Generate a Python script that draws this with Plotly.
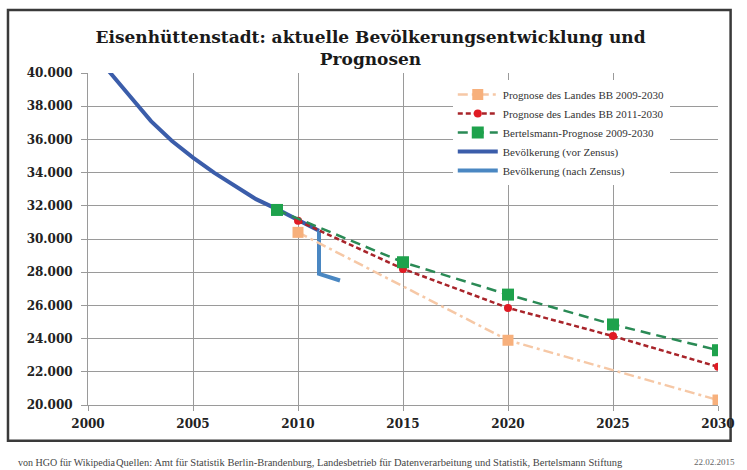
import plotly.graph_objects as go

# ---------------- data ----------------
years_vor = [2000, 2001, 2002, 2003, 2004, 2005, 2006, 2007, 2008, 2009, 2010, 2011]
pop_vor = [41800, 40100, 38600, 37100, 35900, 34900, 34000, 33200, 32400, 31800, 31150, 30500]

years_nach = [2011, 2011, 2012]
pop_nach = [30500, 27900, 27500]

years_bb0930 = [2010, 2020, 2030]
pop_bb0930 = [30400, 23900, 20300]

years_bb1130 = [2010, 2015, 2020, 2025, 2030]
pop_bb1130 = [31100, 28200, 25850, 24150, 22300]

years_bert = [2009, 2015, 2020, 2025, 2030]
pop_bert = [31750, 28600, 26650, 24850, 23300]

x_ticks = [2000, 2005, 2010, 2015, 2020, 2025, 2030]
y_ticks = [20000, 22000, 24000, 26000, 28000, 30000, 32000, 34000, 36000, 38000, 40000]

names = [
    "Prognose des Landes BB 2009-2030",
    "Prognose des Landes BB 2011-2030",
    "Bertelsmann-Prognose 2009-2030",
    "Bevölkerung (vor Zensus)",
    "Bevölkerung (nach Zensus)",
]

title_text = "Eisenhüttenstadt: aktuelle Bevölkerungsentwicklung und<br>Prognosen"
credit_text = "von HGO für Wikipedia"
source_text = ("Quellen: Amt für Statistik Berlin-Brandenburg, Landesbetrieb für "
               "Datenverarbeitung und Statistik, Bertelsmann Stiftung")
date_text = "22.02.2015"

# ---------------- figure ----------------
fig = go.Figure()

fig.add_trace(go.Scatter(
    x=years_vor, y=pop_vor, mode="lines", name=names[3], legendrank=4,
    line=dict(color="#3b5daa", width=4)))
fig.add_trace(go.Scatter(
    x=years_nach, y=pop_nach, mode="lines", name=names[4], legendrank=5,
    line=dict(color="#4a87c2", width=4)))
fig.add_trace(go.Scatter(
    x=years_bb0930, y=pop_bb0930, mode="lines+markers", name=names[0], legendrank=1,
    line=dict(color="#f6c8a6", width=2.5, dash="10px,4px,3px,4px"),
    marker=dict(symbol="square", size=11, color="#f7b07c")))
fig.add_trace(go.Scatter(
    x=years_bb1130, y=pop_bb1130, mode="lines+markers", name=names[1], legendrank=2,
    line=dict(color="#a8242a", width=2.5, dash="5px,3px"),
    marker=dict(symbol="circle", size=8, color="#e01b24")))
fig.add_trace(go.Scatter(
    x=years_bert, y=pop_bert, mode="lines+markers", name=names[2], legendrank=3,
    line=dict(color="#2a8a55", width=2.5, dash="10px,6px"),
    marker=dict(symbol="square", size=12, color="#1ea24c")))

tick_font = dict(family="DejaVu Serif", size=12, color="#222222", weight="bold")

fig.update_xaxes(
    range=[2000, 2030], tickvals=x_ticks, tickformat="d",
    showgrid=True, gridcolor="#9a9a9a", gridwidth=1,
    showline=True, linecolor="#9a9a9a", linewidth=1,
    ticks="outside", ticklen=5, tickcolor="#9a9a9a", ticklabelstandoff=3,
    tickfont=tick_font, zeroline=False)
fig.update_yaxes(
    range=[20000, 40000], tickvals=y_ticks, tickformat=",.0f",
    showgrid=True, gridcolor="#9a9a9a", gridwidth=1,
    showline=True, linecolor="#9a9a9a", linewidth=1,
    ticks="outside", ticklen=6, tickcolor="#9a9a9a", ticklabelstandoff=6,
    tickfont=tick_font, zeroline=False)

fig.update_layout(
    width=747, height=470,
    margin=dict(l=88, r=20, t=73, b=65),
    paper_bgcolor="white", plot_bgcolor="white",
    separators=",.",
    font=dict(family="Liberation Serif", color="#222222"),
    title=dict(text=title_text, xref="container", x=0.496, xanchor="center",
               yref="container", y=1 - 43 / 470, yanchor="middle",
               font=dict(family="DejaVu Serif", size=17, color="#1a1a1a", weight="bold")),
    legend=dict(x=0.579, y=0.979, xanchor="left", yanchor="top",
                bgcolor="white", borderwidth=0, tracegroupgap=0, itemwidth=40,
                font=dict(family="Liberation Serif", size=11, color="#333333")),
    shapes=[dict(type="rect", xref="paper", yref="paper",
                 x0=-0.127, x1=1.02, y0=-0.108, y1=1.19,
                 line=dict(color="#3a3a3a", width=2.5), fillcolor="rgba(0,0,0,0)",
                 layer="below")],
    annotations=[
        dict(text=credit_text, xref="paper", yref="paper", x=-0.115, y=-0.1717,
             xanchor="left", yanchor="middle", showarrow=False,
             font=dict(family="Liberation Serif", size=10, color="#444444")),
        dict(text=source_text, xref="paper", yref="paper", x=0.042, y=-0.1717,
             xanchor="left", yanchor="middle", showarrow=False,
             font=dict(family="Liberation Serif", size=10.5, color="#444444")),
        dict(text=date_text, xref="paper", yref="paper", x=1.03, y=-0.1717,
             xanchor="right", yanchor="middle", showarrow=False,
             font=dict(family="Liberation Serif", size=9, color="#666666")),
    ],
)

fig.write_html("out.html")
